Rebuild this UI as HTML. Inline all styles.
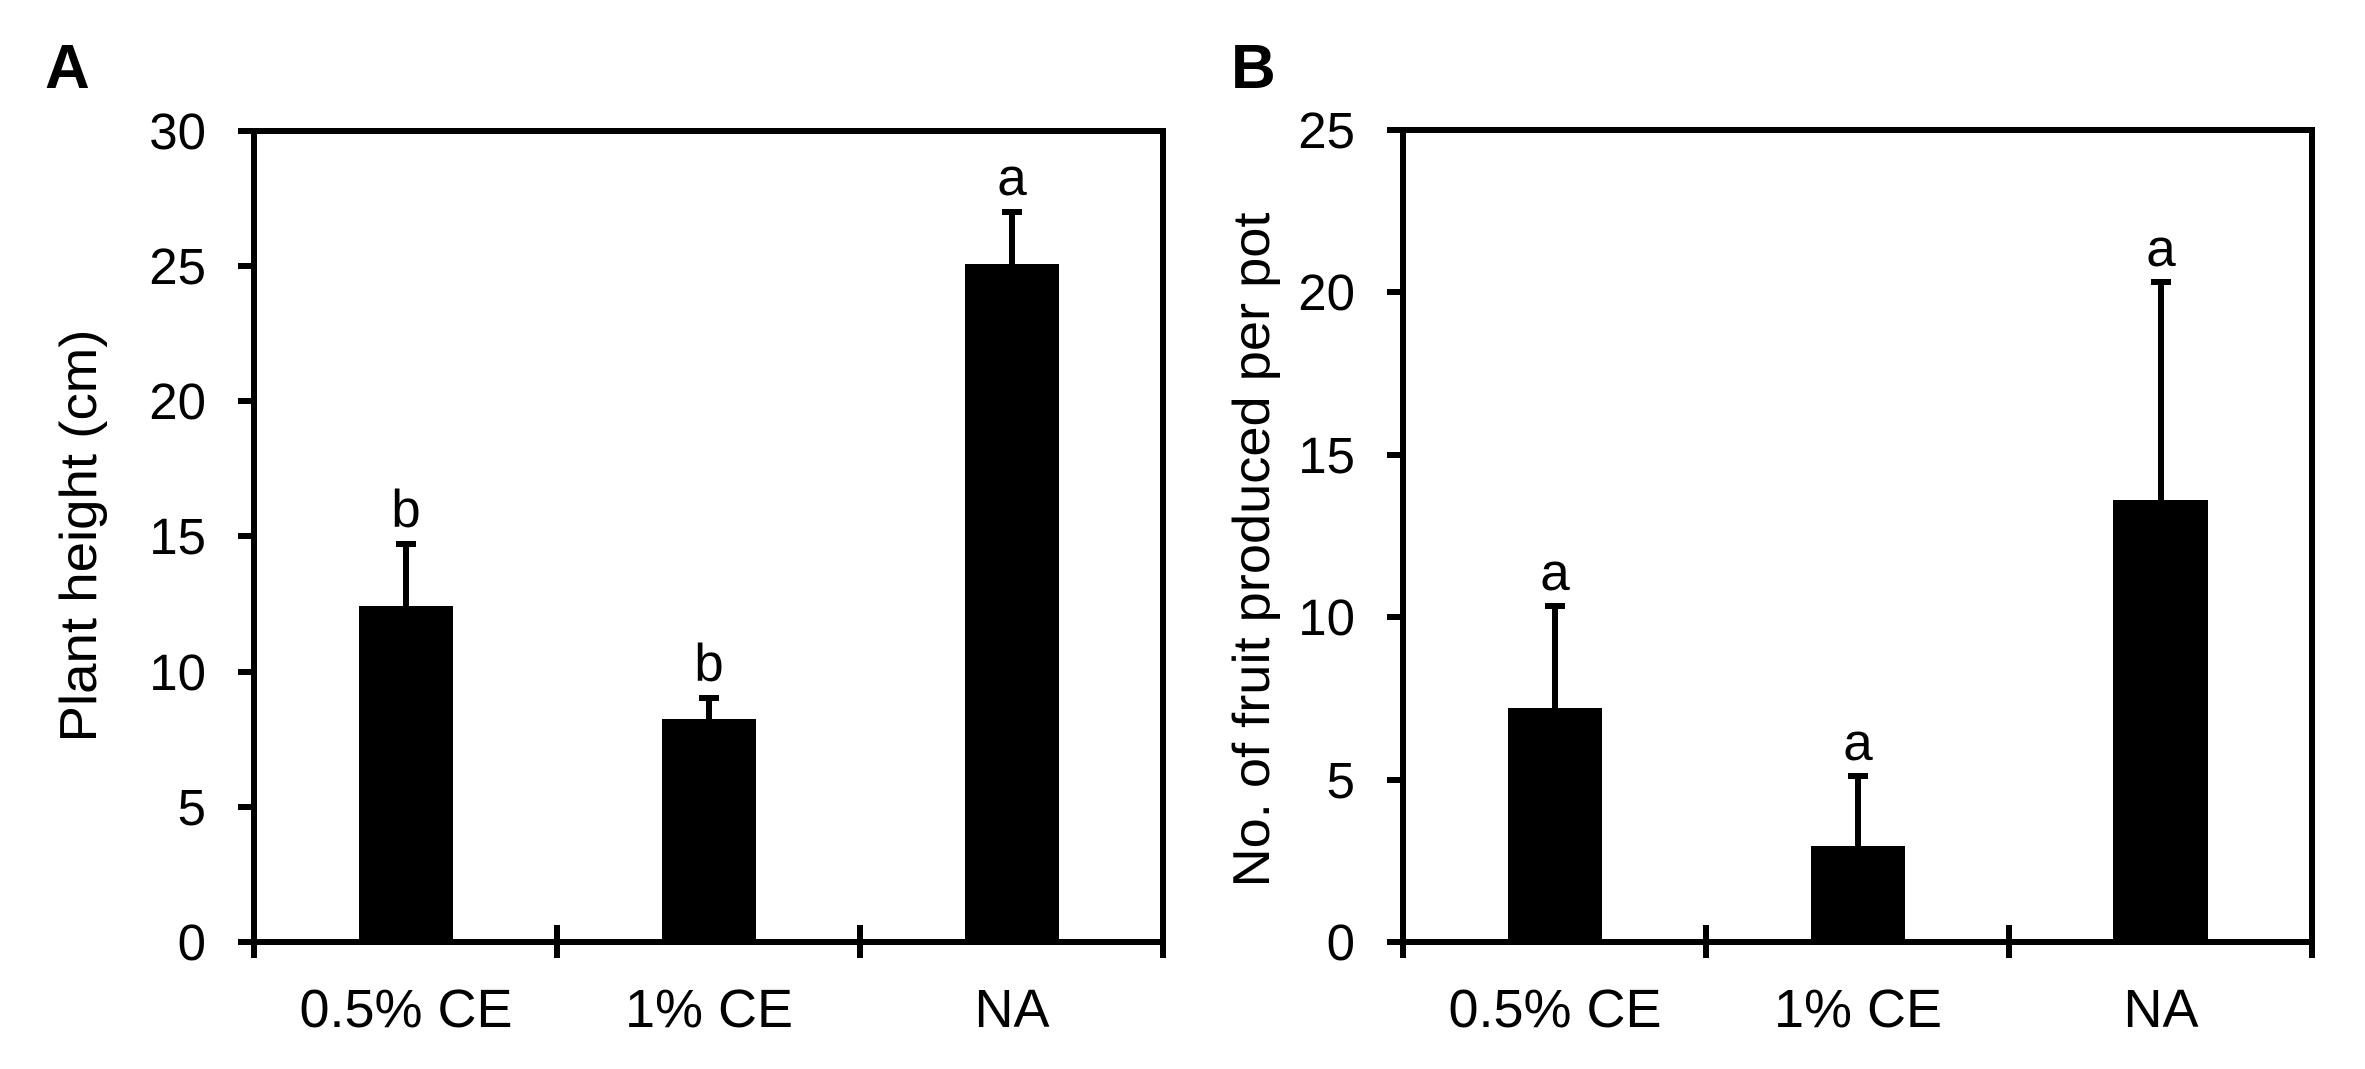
<!DOCTYPE html>
<html><head><meta charset="utf-8"><style>
html,body{margin:0;padding:0;background:#fff;}
svg{display:block;}
text{font-family:"Liberation Sans",Arial,sans-serif;fill:#000;}
</style></head><body>
<svg width="2365" height="1069" viewBox="0 0 2365 1069" xmlns="http://www.w3.org/2000/svg">
<!-- Panel A -->
<text x="45" y="88" font-size="62" font-weight="bold">A</text>
<g stroke="#000" stroke-width="6" fill="none">
<rect x="254" y="131" width="909" height="811"/>
<line x1="238" y1="131" x2="254" y2="131"/>
<line x1="238" y1="266" x2="254" y2="266"/>
<line x1="238" y1="401" x2="254" y2="401"/>
<line x1="238" y1="536" x2="254" y2="536"/>
<line x1="238" y1="672" x2="254" y2="672"/>
<line x1="238" y1="807" x2="254" y2="807"/>
<line x1="238" y1="942" x2="254" y2="942"/>
<line x1="254" y1="942" x2="254" y2="958"/>
<line x1="557" y1="925" x2="557" y2="958"/>
<line x1="860" y1="925" x2="860" y2="958"/>
<line x1="1163" y1="942" x2="1163" y2="958"/>
</g>
<g font-size="51" text-anchor="end">
<text x="206" y="149">30</text>
<text x="206" y="284">25</text>
<text x="206" y="419">20</text>
<text x="206" y="554">15</text>
<text x="206" y="690">10</text>
<text x="206" y="825">5</text>
<text x="206" y="960">0</text>
</g>
<text transform="translate(96,536) rotate(-90)" font-size="52" text-anchor="middle" textLength="413" lengthAdjust="spacingAndGlyphs">Plant height (cm)</text>
<g fill="#000">
<rect x="359" y="606" width="94" height="336"/>
<rect x="662" y="719" width="94" height="223"/>
<rect x="965" y="264" width="94" height="678"/>
<rect x="403" y="541" width="6" height="66"/>
<rect x="396" y="541" width="20" height="6"/>
<rect x="706" y="695" width="6" height="25"/>
<rect x="699" y="695" width="20" height="6"/>
<rect x="1009" y="209" width="6" height="56"/>
<rect x="1002" y="209" width="20" height="6"/>
</g>
<g font-size="53" text-anchor="middle">
<text x="406" y="527">b</text>
<text x="709" y="681">b</text>
<text x="1012" y="195">a</text>
</g>
<g font-size="54" text-anchor="middle">
<text x="406" y="1027">0.5% CE</text>
<text x="709" y="1027">1% CE</text>
<text x="1012" y="1027">NA</text>
</g>

<!-- Panel B -->
<text x="1231" y="88" font-size="62" font-weight="bold">B</text>
<g stroke="#000" stroke-width="6" fill="none">
<rect x="1403" y="130" width="909" height="812"/>
<line x1="1387" y1="130" x2="1403" y2="130"/>
<line x1="1387" y1="292" x2="1403" y2="292"/>
<line x1="1387" y1="455" x2="1403" y2="455"/>
<line x1="1387" y1="617" x2="1403" y2="617"/>
<line x1="1387" y1="780" x2="1403" y2="780"/>
<line x1="1387" y1="942" x2="1403" y2="942"/>
<line x1="1403" y1="942" x2="1403" y2="958"/>
<line x1="1706" y1="925" x2="1706" y2="958"/>
<line x1="2009" y1="925" x2="2009" y2="958"/>
<line x1="2312" y1="942" x2="2312" y2="958"/>
</g>
<g font-size="51" text-anchor="end">
<text x="1355" y="148">25</text>
<text x="1355" y="310">20</text>
<text x="1355" y="473">15</text>
<text x="1355" y="635">10</text>
<text x="1355" y="798">5</text>
<text x="1355" y="960">0</text>
</g>
<text transform="translate(1269,550) rotate(-90)" font-size="52" text-anchor="middle" textLength="675" lengthAdjust="spacingAndGlyphs">No. of fruit produced per pot</text>
<g fill="#000">
<rect x="1508" y="708" width="94" height="234"/>
<rect x="1811" y="846" width="94" height="96"/>
<rect x="2113" y="500" width="95" height="442"/>
<rect x="1552" y="603" width="6" height="106"/>
<rect x="1545" y="603" width="20" height="6"/>
<rect x="1855" y="773" width="6" height="74"/>
<rect x="1848" y="773" width="20" height="6"/>
<rect x="2158" y="279" width="6" height="222"/>
<rect x="2151" y="279" width="20" height="6"/>
</g>
<g font-size="53" text-anchor="middle">
<text x="1555" y="590">a</text>
<text x="1858" y="760">a</text>
<text x="2161" y="266">a</text>
</g>
<g font-size="54" text-anchor="middle">
<text x="1555" y="1027">0.5% CE</text>
<text x="1858" y="1027">1% CE</text>
<text x="2161" y="1027">NA</text>
</g>
</svg>
</body></html>
